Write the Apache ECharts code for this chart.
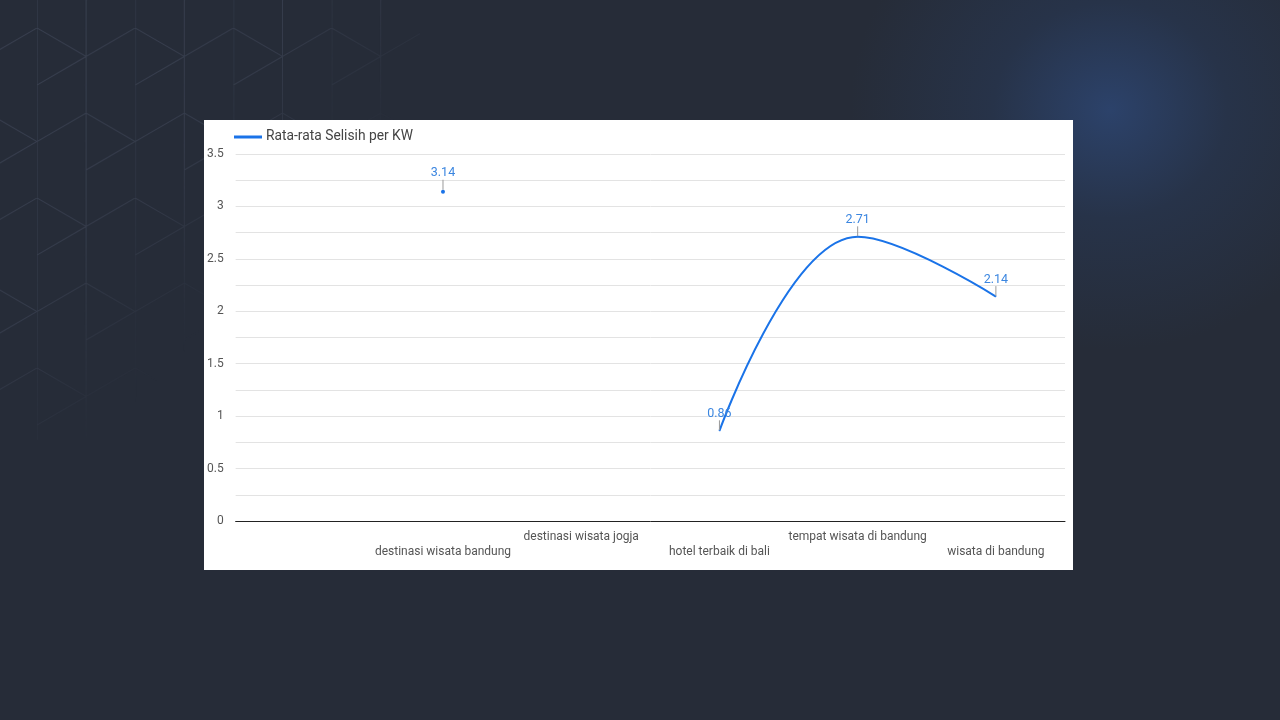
<!DOCTYPE html>
<html><head><meta charset="utf-8">
<script src="https://cdn.jsdelivr.net/npm/echarts@6/dist/echarts.min.js"></script>
<style>
html,body{margin:0;padding:0;width:1280px;height:720px;overflow:hidden;}
body{background:#262c38;position:relative;font-family:Roboto,"Noto Sans",sans-serif;}
#glow{position:absolute;left:0;top:0;width:1280px;height:720px;
 background:radial-gradient(ellipse 260px 240px at 1110px 110px, rgba(45,70,115,0.85) 0%, rgba(40,58,90,0.5) 45%, rgba(38,44,56,0) 100%);}
#pattern{position:absolute;left:0;top:0;width:420px;height:440px;}
#chart{position:absolute;left:204px;top:120px;width:869px;height:450px;background:#ffffff;}
</style></head>
<body>
<div id="glow"></div>
<svg id="pattern" width="420" height="440" xmlns="http://www.w3.org/2000/svg">
 <defs>
  <pattern id="iso" x="37" y="28" width="98.2" height="170" patternUnits="userSpaceOnUse">
   <path d="M0 -1 V171 M49.1 -1 V171 M0 0 L49.1 28.5 L98.2 0 M0 57 L49.1 28.5 M0 113.5 L49.1 85 L98.2 113.5 M49.1 142 L98.2 113.5" stroke="#394050" stroke-width="1" fill="none"/>
  </pattern>
  <linearGradient id="fade" x1="0" y1="0" x2="1" y2="1">
   <stop offset="0" stop-color="#fff" stop-opacity="1"/>
   <stop offset="0.38" stop-color="#fff" stop-opacity="0.8"/>
   <stop offset="0.62" stop-color="#fff" stop-opacity="0"/>
  </linearGradient>
  <mask id="m"><rect x="0" y="0" width="420" height="440" fill="url(#fade)"/></mask>
 </defs>
 <rect x="0" y="0" width="420" height="440" fill="url(#iso)" mask="url(#m)"/>
</svg>
<div id="chart"></div>
<script>
const categories = ["", "destinasi wisata bandung", "destinasi wisata jogja", "hotel terbaik di bali", "tempat wisata di bandung", "wisata di bandung"];
const values = [null, 3.14, null, 0.86, 2.71, 2.14];
const seriesName = "Rata-rata Selisih per KW";
const yMax = 3.5;
const yStep = 0.25;

const lineColor = "#1a73e8";
const chart = echarts.init(document.getElementById('chart'));

// isolated points get a visible dot; points on a line segment get a tiny symbol (keeps the label)
const seriesData = values.map((v, i) => {
  const prev = i > 0 ? values[i - 1] : null;
  const next = i < values.length - 1 ? values[i + 1] : null;
  const isolated = v != null && prev == null && next == null;
  return { value: v, symbolSize: isolated ? 4 : 1 };
});

chart.setOption({
  animation: false,
  textStyle: { fontFamily: 'Roboto, "Noto Sans", sans-serif' },
  legend: {
    left: 25, top: 5,
    icon: 'rect', itemWidth: 28, itemHeight: 3, itemGap: 10,
    textStyle: { color: '#444', fontSize: 13.8, padding: [0, 0, 0, -1] },
    data: [seriesName]
  },
  grid: { left: 30, right: 8, top: 34, bottom: 49, containLabel: false },
  xAxis: {
    type: 'category',
    data: categories,
    boundaryGap: true,
    axisLine: { show: true, lineStyle: { color: '#222', width: 1 } },
    axisTick: { show: false },
    axisLabel: {
      interval: 0, margin: 8, color: '#555', fontSize: 12, lineHeight: 15,
      formatter: (v, i) => (i % 2 === 1 ? '\n' + v : v)
    },
    splitLine: { show: false }
  },
  yAxis: {
    type: 'value', min: 0, max: yMax, interval: yStep,
    axisLine: { show: false }, axisTick: { show: false },
    axisLabel: {
      margin: 12, color: '#555', fontSize: 12,
      formatter: v => (Math.abs(v / 0.5 - Math.round(v / 0.5)) < 1e-6 ? String(v) : '')
    },
    splitLine: { lineStyle: { color: '#e3e3e3', width: 1 } }
  },
  series: [{
    name: seriesName,
    type: 'line',
    data: seriesData,
    smooth: 0.4,
    connectNulls: false,
    symbol: 'circle',
    showSymbol: true,
    lineStyle: { color: lineColor, width: 2 },
    itemStyle: { color: lineColor },
    label: {
      show: true, position: 'top', distance: 5,
      color: '#3b86e0', fontSize: 12.5,
      formatter: p => (p.value == null ? '' : p.value.toFixed(2))
    },
    labelLayout: { dy: -5, hideOverlap: false },
    labelLine: { show: true, lineStyle: { color: '#9a9a9a', width: 1 }, minTurnAngle: 0 }
  }]
});
</script>
</body></html>
